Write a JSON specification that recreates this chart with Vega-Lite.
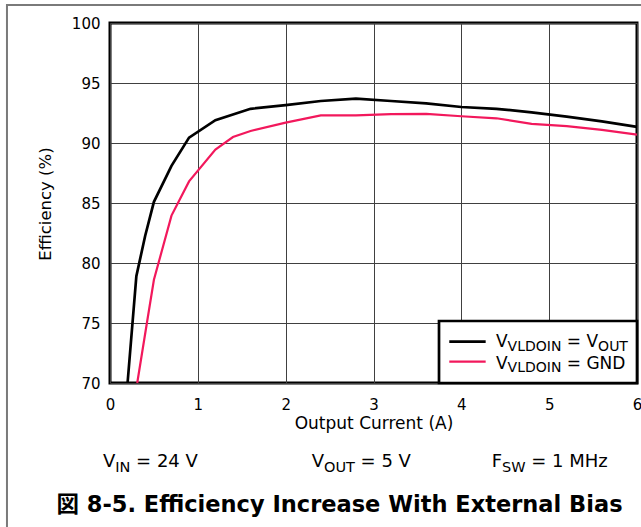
{
  "$schema": "https://vega.github.io/schema/vega-lite/v6.json",
  "width": 527,
  "height": 360,
  "autosize": {"type": "none"},
  "padding": {"left": 110, "top": 23, "right": 4, "bottom": 144},
  "background": "white",
  "config": {"view": {"stroke": "black", "strokeWidth": 3}, "font": "DejaVu Sans"},
  "data": {"values": [{}]},
  "datasets": {
    "curves": [
      {"s": "VOUT", "x": 0.2, "y": 70}, {"s": "VOUT", "x": 0.3, "y": 78.9}, {"s": "VOUT", "x": 0.4, "y": 82.25}, {"s": "VOUT", "x": 0.5, "y": 85.1}, {"s": "VOUT", "x": 0.7, "y": 88.1}, {"s": "VOUT", "x": 0.9, "y": 90.45}, {"s": "VOUT", "x": 1.2, "y": 91.9}, {"s": "VOUT", "x": 1.6, "y": 92.85}, {"s": "VOUT", "x": 2.0, "y": 93.15}, {"s": "VOUT", "x": 2.4, "y": 93.5}, {"s": "VOUT", "x": 2.8, "y": 93.7}, {"s": "VOUT", "x": 3.2, "y": 93.5}, {"s": "VOUT", "x": 3.6, "y": 93.3}, {"s": "VOUT", "x": 4.0, "y": 93.0}, {"s": "VOUT", "x": 4.4, "y": 92.85}, {"s": "VOUT", "x": 4.8, "y": 92.55}, {"s": "VOUT", "x": 5.2, "y": 92.2}, {"s": "VOUT", "x": 5.6, "y": 91.8}, {"s": "VOUT", "x": 6.0, "y": 91.35},
      {"s": "GND", "x": 0.31, "y": 70}, {"s": "GND", "x": 0.42, "y": 75.0}, {"s": "GND", "x": 0.5, "y": 78.6}, {"s": "GND", "x": 0.7, "y": 83.95}, {"s": "GND", "x": 0.9, "y": 86.8}, {"s": "GND", "x": 1.2, "y": 89.45}, {"s": "GND", "x": 1.4, "y": 90.5}, {"s": "GND", "x": 1.6, "y": 91.0}, {"s": "GND", "x": 2.0, "y": 91.7}, {"s": "GND", "x": 2.4, "y": 92.3}, {"s": "GND", "x": 2.8, "y": 92.3}, {"s": "GND", "x": 3.2, "y": 92.4}, {"s": "GND", "x": 3.6, "y": 92.43}, {"s": "GND", "x": 4.0, "y": 92.23}, {"s": "GND", "x": 4.4, "y": 92.06}, {"s": "GND", "x": 4.8, "y": 91.6}, {"s": "GND", "x": 5.2, "y": 91.4}, {"s": "GND", "x": 5.6, "y": 91.1}, {"s": "GND", "x": 6.0, "y": 90.7}
    ]
  },
  "layer": [
    {
      "data": {"name": "curves"},
      "mark": {"type": "line"},
      "encoding": {
        "x": {"field": "x", "type": "quantitative", "scale": {"domain": [0, 6], "nice": false},
          "axis": {"title": "Output Current (A)", "values": [0, 1, 2, 3, 4, 5, 6], "format": "d", "grid": true, "gridColor": "#404040", "gridWidth": 1, "domain": false, "ticks": false, "labelFont": "DejaVu Sans", "labelFontSize": 15, "labelColor": "black", "labelPadding": 14, "labelFlush": false, "titleFont": "DejaVu Sans", "titleFontSize": 17, "titleFontWeight": "normal", "titleColor": "black", "titleY": 45, "titleBaseline": "alphabetic"}},
        "y": {"field": "y", "type": "quantitative", "scale": {"domain": [70, 100], "nice": false},
          "axis": {"title": "Efficiency (%)", "values": [70, 75, 80, 85, 90, 95, 100], "format": "d", "grid": true, "gridColor": "#404040", "gridWidth": 1, "domain": false, "ticks": false, "labelFont": "DejaVu Sans", "labelFontSize": 15, "labelColor": "black", "labelPadding": 10, "titleFont": "DejaVu Sans", "titleFontSize": 16.5, "titleFontWeight": "normal", "titleColor": "black", "titleX": -60, "titleY": 180.5, "titleAngle": -90, "titleBaseline": "alphabetic", "titleAlign": "center"}},
        "color": {"field": "s", "type": "nominal", "scale": {"domain": ["VOUT", "GND"], "range": ["#000000", "#F2185C"]}, "legend": null},
        "strokeWidth": {"field": "s", "type": "nominal", "scale": {"domain": ["VOUT", "GND"], "range": [2.7, 2.2]}, "legend": null}
      }
    },
    {
      "mark": {"type": "rect", "fill": "transparent", "stroke": "#7a7a7a", "strokeWidth": 2},
      "encoding": {
        "x": {"datum": -1.173, "type": "quantitative", "scale": {"domain": [0, 6], "nice": false}},
        "x2": {"datum": 6.2},
        "y": {"datum": 101.5, "type": "quantitative", "scale": {"domain": [70, 100], "nice": false}},
        "y2": {"datum": 56}
      }
    },
    {
      "mark": {"type": "rect", "fill": "white", "stroke": "black", "strokeWidth": 2.7},
      "encoding": {
        "x": {"datum": 3.7458, "type": "quantitative", "scale": {"domain": [0, 6], "nice": false}},
        "x2": {"datum": 6.0},
        "y": {"datum": 75.167, "type": "quantitative", "scale": {"domain": [70, 100], "nice": false}},
        "y2": {"datum": 70}
      }
    },
    {
      "mark": {"type": "rule", "color": "black", "strokeWidth": 2.7},
      "encoding": {
        "x": {"datum": 3.8627, "type": "quantitative", "scale": {"domain": [0, 6], "nice": false}},
        "x2": {"datum": 4.2771},
        "y": {"datum": 73.442, "type": "quantitative", "scale": {"domain": [70, 100], "nice": false}}
      }
    },
    {
      "mark": {"type": "rule", "color": "#F2185C", "strokeWidth": 2.2},
      "encoding": {
        "x": {"datum": 3.8627, "type": "quantitative", "scale": {"domain": [0, 6], "nice": false}},
        "x2": {"datum": 4.2771},
        "y": {"datum": 71.775, "type": "quantitative", "scale": {"domain": [70, 100], "nice": false}}
      }
    },
    {
      "mark": {"type": "text", "align": "left", "baseline": "alphabetic", "fontSize": 17, "font": "DejaVu Sans", "color": "black"},
      "encoding": {
        "x": {"datum": 4.3947, "type": "quantitative", "scale": {"domain": [0, 6], "nice": false}},
        "y": {"datum": 73.0, "type": "quantitative", "scale": {"domain": [70, 100], "nice": false}},
        "text": {"value": "V"}
      }
    },
    {
      "mark": {"type": "text", "align": "left", "baseline": "alphabetic", "fontSize": 14, "font": "DejaVu Sans", "color": "black"},
      "encoding": {
        "x": {"datum": 4.5268, "type": "quantitative", "scale": {"domain": [0, 6], "nice": false}},
        "y": {"datum": 72.708, "type": "quantitative", "scale": {"domain": [70, 100], "nice": false}},
        "text": {"value": "VLDOIN"}
      }
    },
    {
      "mark": {"type": "text", "align": "left", "baseline": "alphabetic", "fontSize": 17, "font": "DejaVu Sans", "color": "black"},
      "encoding": {
        "x": {"datum": 5.2008, "type": "quantitative", "scale": {"domain": [0, 6], "nice": false}},
        "y": {"datum": 73.0, "type": "quantitative", "scale": {"domain": [70, 100], "nice": false}},
        "text": {"value": "= V"}
      }
    },
    {
      "mark": {"type": "text", "align": "left", "baseline": "alphabetic", "fontSize": 14, "font": "DejaVu Sans", "color": "black"},
      "encoding": {
        "x": {"datum": 5.5572, "type": "quantitative", "scale": {"domain": [0, 6], "nice": false}},
        "y": {"datum": 72.708, "type": "quantitative", "scale": {"domain": [70, 100], "nice": false}},
        "text": {"value": "OUT"}
      }
    },
    {
      "mark": {"type": "text", "align": "left", "baseline": "alphabetic", "fontSize": 17, "font": "DejaVu Sans", "color": "black"},
      "encoding": {
        "x": {"datum": 4.3947, "type": "quantitative", "scale": {"domain": [0, 6], "nice": false}},
        "y": {"datum": 71.208, "type": "quantitative", "scale": {"domain": [70, 100], "nice": false}},
        "text": {"value": "V"}
      }
    },
    {
      "mark": {"type": "text", "align": "left", "baseline": "alphabetic", "fontSize": 14, "font": "DejaVu Sans", "color": "black"},
      "encoding": {
        "x": {"datum": 4.5268, "type": "quantitative", "scale": {"domain": [0, 6], "nice": false}},
        "y": {"datum": 70.917, "type": "quantitative", "scale": {"domain": [70, 100], "nice": false}},
        "text": {"value": "VLDOIN"}
      }
    },
    {
      "mark": {"type": "text", "align": "left", "baseline": "alphabetic", "fontSize": 17, "font": "DejaVu Sans", "color": "black"},
      "encoding": {
        "x": {"datum": 5.2008, "type": "quantitative", "scale": {"domain": [0, 6], "nice": false}},
        "y": {"datum": 71.208, "type": "quantitative", "scale": {"domain": [70, 100], "nice": false}},
        "text": {"value": "= GND"}
      }
    },
    {
      "mark": {"type": "text", "align": "left", "baseline": "alphabetic", "fontSize": 18, "font": "DejaVu Sans", "color": "black"},
      "encoding": {
        "x": {"datum": -0.0797, "type": "quantitative", "scale": {"domain": [0, 6], "nice": false}},
        "y": {"datum": 63.0, "type": "quantitative", "scale": {"domain": [70, 100], "nice": false}},
        "text": {"value": "V"}
      }
    },
    {
      "mark": {"type": "text", "align": "left", "baseline": "alphabetic", "fontSize": 14.5, "font": "DejaVu Sans", "color": "black"},
      "encoding": {
        "x": {"datum": 0.0604, "type": "quantitative", "scale": {"domain": [0, 6], "nice": false}},
        "y": {"datum": 62.625, "type": "quantitative", "scale": {"domain": [70, 100], "nice": false}},
        "text": {"value": "IN"}
      }
    },
    {
      "mark": {"type": "text", "align": "left", "baseline": "alphabetic", "fontSize": 18, "font": "DejaVu Sans", "color": "black"},
      "encoding": {
        "x": {"datum": 0.2971, "type": "quantitative", "scale": {"domain": [0, 6], "nice": false}},
        "y": {"datum": 63.0, "type": "quantitative", "scale": {"domain": [70, 100], "nice": false}},
        "text": {"value": "= 24 V"}
      }
    },
    {
      "mark": {"type": "text", "align": "left", "baseline": "alphabetic", "fontSize": 18, "font": "DejaVu Sans", "color": "black"},
      "encoding": {
        "x": {"datum": 2.2964, "type": "quantitative", "scale": {"domain": [0, 6], "nice": false}},
        "y": {"datum": 63.0, "type": "quantitative", "scale": {"domain": [70, 100], "nice": false}},
        "text": {"value": "V"}
      }
    },
    {
      "mark": {"type": "text", "align": "left", "baseline": "alphabetic", "fontSize": 14.5, "font": "DejaVu Sans", "color": "black"},
      "encoding": {
        "x": {"datum": 2.4364, "type": "quantitative", "scale": {"domain": [0, 6], "nice": false}},
        "y": {"datum": 62.625, "type": "quantitative", "scale": {"domain": [70, 100], "nice": false}},
        "text": {"value": "OUT"}
      }
    },
    {
      "mark": {"type": "text", "align": "left", "baseline": "alphabetic", "fontSize": 18, "font": "DejaVu Sans", "color": "black"},
      "encoding": {
        "x": {"datum": 2.8531, "type": "quantitative", "scale": {"domain": [0, 6], "nice": false}},
        "y": {"datum": 63.0, "type": "quantitative", "scale": {"domain": [70, 100], "nice": false}},
        "text": {"value": "= 5 V"}
      }
    },
    {
      "mark": {"type": "text", "align": "left", "baseline": "alphabetic", "fontSize": 18, "font": "DejaVu Sans", "color": "black"},
      "encoding": {
        "x": {"datum": 4.3457, "type": "quantitative", "scale": {"domain": [0, 6], "nice": false}},
        "y": {"datum": 63.0, "type": "quantitative", "scale": {"domain": [70, 100], "nice": false}},
        "text": {"value": "F"}
      }
    },
    {
      "mark": {"type": "text", "align": "left", "baseline": "alphabetic", "fontSize": 14.5, "font": "DejaVu Sans", "color": "black"},
      "encoding": {
        "x": {"datum": 4.4635, "type": "quantitative", "scale": {"domain": [0, 6], "nice": false}},
        "y": {"datum": 62.625, "type": "quantitative", "scale": {"domain": [70, 100], "nice": false}},
        "text": {"value": "SW"}
      }
    },
    {
      "mark": {"type": "text", "align": "left", "baseline": "alphabetic", "fontSize": 18, "font": "DejaVu Sans", "color": "black"},
      "encoding": {
        "x": {"datum": 4.7966, "type": "quantitative", "scale": {"domain": [0, 6], "nice": false}},
        "y": {"datum": 63.0, "type": "quantitative", "scale": {"domain": [70, 100], "nice": false}},
        "text": {"value": "= 1 MHz"}
      }
    },
    {
      "mark": {"type": "text", "align": "center", "baseline": "alphabetic", "fontSize": 22.5, "fontWeight": "bold", "font": "DejaVu Sans, Noto Sans CJK JP", "color": "black"},
      "encoding": {
        "x": {"datum": 2.6128, "type": "quantitative", "scale": {"domain": [0, 6], "nice": false}},
        "y": {"datum": 59.25, "type": "quantitative", "scale": {"domain": [70, 100], "nice": false}},
        "text": {"value": "図 8-5. Efficiency Increase With External Bias"}
      }
    }
  ]
}
